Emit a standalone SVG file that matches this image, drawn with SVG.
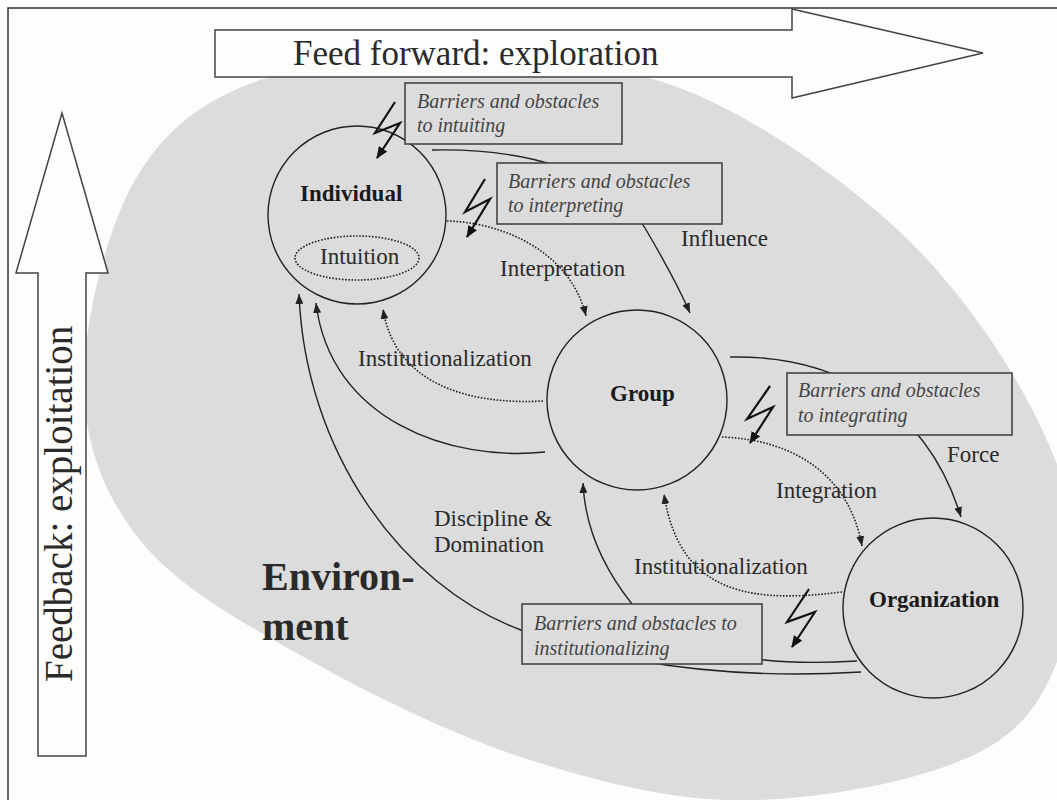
<svg xmlns="http://www.w3.org/2000/svg" width="1057" height="800" viewBox="0 0 1057 800">
<defs>
<style>
.t{font-family:"Liberation Serif","Times New Roman",serif;fill:#2a2a2a}
.lbl{font-size:23px}
.bold{font-size:23px;font-weight:bold;fill:#1a1a1a}
.it{font-size:20px;font-style:italic;fill:#444}
.node{fill:none;stroke:#222;stroke-width:1.4}
.box{fill:#dcdcdc;stroke:#444;stroke-width:1.6}
.solid{fill:none;stroke:#222;stroke-width:1.4}
.dot{fill:none;stroke:#222;stroke-width:1.6;stroke-dasharray:1.6 1.6}
.bolt{fill:none;stroke:#111;stroke-width:2.2;stroke-linejoin:miter}
.big{fill:#fdfdfc;stroke:#444;stroke-width:1.5}
</style>
<marker id="ah" viewBox="0 0 10 8" refX="10" refY="4" markerWidth="10" markerHeight="8" orient="auto" markerUnits="userSpaceOnUse"><path d="M0,0 L10,4 L0,8 z" fill="#222"/></marker>
<marker id="bh" viewBox="0 0 12 10" refX="11" refY="5" markerWidth="12" markerHeight="10" orient="auto" markerUnits="userSpaceOnUse"><path d="M0,0 L12,5 L0,10 z" fill="#111"/></marker>
</defs>
<rect x="0" y="0" width="1057" height="800" fill="#fdfdfc"/>
<rect x="8" y="8" width="1070" height="820" fill="none" stroke="#333" stroke-width="1.5"/>
<path id="environment" d="M260,80 C317.5,59.7 408.3,56 480,58 C551.7,60 620,63 690,92 C760,121 842.5,178.2 900,232 C957.5,285.8 1005.8,357 1035,415 C1064.2,473 1080.8,525.8 1075,580 C1069.2,634.2 1052.5,703.3 1000,740 C947.5,776.7 838.3,796.7 760,800 C681.7,803.3 606.7,784.2 530,760 C453.3,735.8 365,691.7 300,655 C235,618.3 176,585 140,540 C104,495 84.8,445 84,385 C83.2,325 105.7,230.8 135,180 C164.3,129.2 202.5,100.3 260,80 Z" fill="#dcdcdc"/>
<g id="feedforward">
<path class="big" d="M215,30 H792 V9 L983,53 L792,98 V77 H215 Z"/>
<text class="t" x="293" y="65" font-size="35">Feed forward: exploration</text>
</g>
<g id="feedback">
<path class="big" d="M62,113 L108,273 H86 V756 H38 V273 H16 Z"/>
<text class="t" transform="translate(72,682) rotate(-90)" font-size="39">Feedback: exploitation</text>
</g>
<g id="connectors">
<path class="solid" d="M432,150 C520,148 610,170 645,228 C665,262 680,290 690,313" marker-end="url(#ah)"/>
<path class="dot" d="M447,221 C500,222 570,250 586,316" marker-end="url(#ah)"/>
<path class="solid" d="M730,357 C830,355 925,400 961,517" marker-end="url(#ah)"/>
<path class="dot" d="M722,437 C800,440 850,480 862,546" marker-end="url(#ah)"/>
<path class="dot" d="M543,401 C470,405 395,385 383,309" marker-end="url(#ah)"/>
<path class="solid" d="M545,452 C450,462 330,420 316,303" marker-end="url(#ah)"/>
<path class="solid" d="M861,672 C760,678 640,672 521,630 C400,585 305,450 299,294" marker-end="url(#ah)"/>
<path class="solid" d="M857,661 C760,667 680,655 632,604 C605,570 585,530 583,483" marker-end="url(#ah)"/>
<path class="dot" d="M842,592 C760,602 680,600 664,494" marker-end="url(#ah)"/>
</g>
<g id="individual">
<circle class="node" cx="357" cy="215" r="89"/>
<text class="t bold" x="300" y="201">Individual</text>
<ellipse cx="357" cy="258" rx="62" ry="22" fill="none" stroke="#222" stroke-width="1.6" stroke-dasharray="1.6 1.6"/>
<text class="t lbl" x="320" y="264">Intuition</text>
</g>
<g id="group">
<circle class="node" cx="637" cy="400" r="90"/>
<text class="t bold" x="610" y="401">Group</text>
</g>
<g id="organization">
<circle class="node" cx="933" cy="608" r="90"/>
<text class="t bold" x="869" y="607">Organization</text>
</g>
<g id="barrier-intuiting">
<rect class="box" x="405" y="83" width="217" height="61"/>
<text class="t it" x="417" y="108">Barriers and obstacles</text>
<text class="t it" x="417" y="132">to intuiting</text>
<polyline class="bolt" points="395,102 375,133 400,123 377,158" marker-end="url(#bh)"/>
</g>
<g id="barrier-interpreting">
<rect class="box" x="497" y="163" width="225" height="61"/>
<text class="t it" x="508" y="188">Barriers and obstacles</text>
<text class="t it" x="508" y="212">to interpreting</text>
<polyline class="bolt" points="485,179 465,212 490,199 467,237" marker-end="url(#bh)"/>
</g>
<g id="barrier-integrating">
<rect class="box" x="787" y="373" width="225" height="62"/>
<text class="t it" x="798" y="397">Barriers and obstacles</text>
<text class="t it" x="798" y="422">to integrating</text>
<polyline class="bolt" points="770,386 747,419 773,407 750,443" marker-end="url(#bh)"/>
</g>
<g id="barrier-institutionalizing">
<rect class="box" x="522" y="604" width="240" height="60"/>
<text class="t it" x="534" y="630">Barriers and obstacles to</text>
<text class="t it" x="534" y="655">institutionalizing</text>
<polyline class="bolt" points="809,589 787,622 815,612 792,647" marker-end="url(#bh)"/>
</g>
<g id="labels">
<text class="t lbl" x="681" y="246">Influence</text>
<text class="t lbl" x="500" y="276">Interpretation</text>
<text class="t lbl" x="358" y="366">Institutionalization</text>
<text class="t lbl" x="947" y="462">Force</text>
<text class="t lbl" x="776" y="498">Integration</text>
<text class="t lbl" x="434" y="526">Discipline &amp;</text>
<text class="t lbl" x="434" y="552">Domination</text>
<text class="t lbl" x="634" y="574">Institutionalization</text>
<text class="t" x="262" y="590" font-size="40" font-weight="bold" fill="#1a1a1a">Environ-</text>
<text class="t" x="262" y="640" font-size="40" font-weight="bold" fill="#1a1a1a">ment</text>
</g>
</svg>
